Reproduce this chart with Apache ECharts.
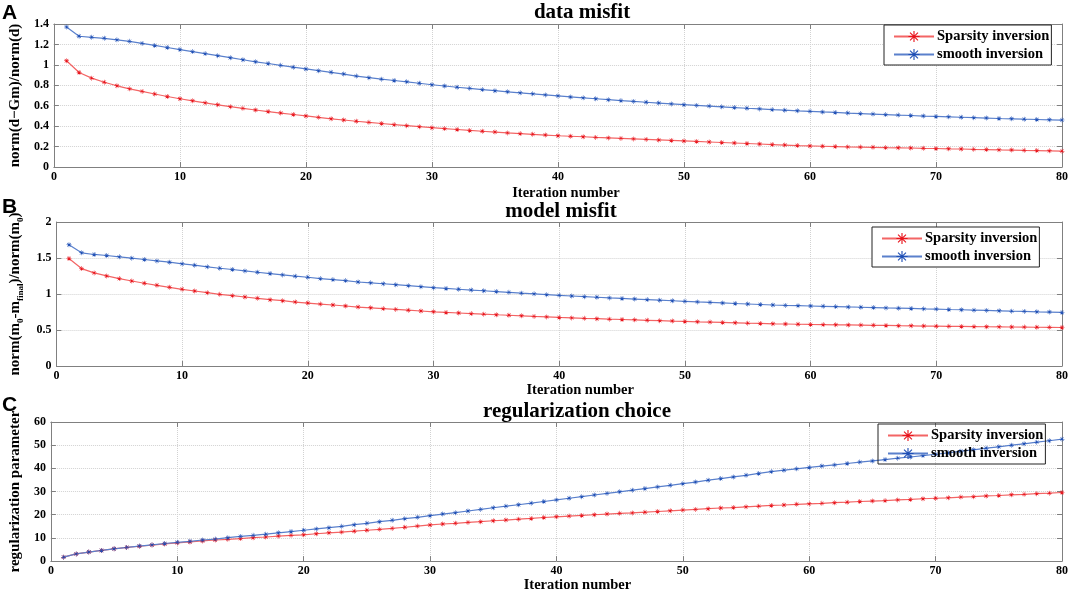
<!DOCTYPE html>
<html>
<head>
<meta charset="utf-8">
<script src="https://cdn.jsdelivr.net/npm/echarts@6/dist/echarts.min.js"></script>
<style>
  html, body { margin: 0; padding: 0; background: #fff; }
  #chart { width: 1072px; height: 594px; }
</style>
</head>
<body>
<div id="chart"></div>
<script>
// iteration numbers (x)
const iterations = [1,2,3,4,5,6,7,8,9,10,11,12,13,14,15,16,17,18,19,20,
  21,22,23,24,25,26,27,28,29,30,31,32,33,34,35,36,37,38,39,40,
  41,42,43,44,45,46,47,48,49,50,51,52,53,54,55,56,57,58,59,60,
  61,62,63,64,65,66,67,68,69,70,71,72,73,74,75,76,77,78,79,80];

// A: data misfit
const sparsityDataMisfit = [1.04,0.925,0.87,0.83,0.795,0.765,0.74,0.715,0.69,0.668,
  0.648,0.628,0.609,0.591,0.574,0.558,0.543,0.528,0.514,0.50,
  0.486,0.472,0.46,0.448,0.437,0.426,0.415,0.405,0.395,0.385,
  0.376,0.367,0.358,0.35,0.342,0.334,0.327,0.32,0.313,0.306,
  0.301,0.296,0.29,0.285,0.28,0.275,0.27,0.265,0.26,0.255,
  0.25,0.245,0.24,0.235,0.23,0.225,0.22,0.215,0.21,0.206,
  0.203,0.2,0.197,0.195,0.193,0.19,0.188,0.186,0.183,0.181,
  0.178,0.176,0.173,0.171,0.168,0.166,0.163,0.161,0.158,0.155];
const smoothDataMisfit = [1.37,1.28,1.27,1.26,1.245,1.23,1.21,1.19,1.17,1.15,
  1.13,1.11,1.09,1.07,1.05,1.03,1.013,0.995,0.977,0.96,
  0.943,0.927,0.91,0.89,0.875,0.86,0.847,0.834,0.82,0.805,
  0.793,0.781,0.77,0.758,0.747,0.736,0.726,0.716,0.706,0.696,
  0.686,0.677,0.668,0.659,0.65,0.642,0.634,0.626,0.618,0.61,
  0.603,0.596,0.589,0.582,0.575,0.569,0.562,0.556,0.55,0.545,
  0.539,0.534,0.528,0.523,0.518,0.513,0.508,0.504,0.499,0.495,
  0.491,0.487,0.483,0.479,0.475,0.472,0.468,0.465,0.462,0.459];

// B: model misfit
const sparsityModelMisfit = [1.493,1.353,1.293,1.251,1.214,1.181,1.149,1.121,1.093,1.065,
  1.042,1.019,0.995,0.977,0.958,0.94,0.921,0.907,0.888,0.874,
  0.86,0.847,0.833,0.819,0.808,0.797,0.786,0.775,0.764,0.753,
  0.744,0.736,0.728,0.72,0.712,0.705,0.697,0.689,0.682,0.674,
  0.668,0.662,0.657,0.651,0.646,0.641,0.635,0.63,0.624,0.619,
  0.614,0.61,0.605,0.6,0.595,0.591,0.586,0.583,0.58,0.577,
  0.575,0.572,0.57,0.568,0.565,0.563,0.56,0.558,0.555,0.553,
  0.551,0.549,0.547,0.545,0.544,0.542,0.54,0.538,0.537,0.535];
const smoothModelMisfit = [1.684,1.572,1.549,1.535,1.516,1.498,1.479,1.46,1.442,1.419,
  1.4,1.377,1.358,1.34,1.321,1.302,1.284,1.265,1.247,1.233,
  1.214,1.2,1.186,1.167,1.155,1.142,1.129,1.116,1.102,1.088,
  1.077,1.066,1.055,1.045,1.034,1.023,1.012,1.002,0.991,0.981,
  0.972,0.963,0.955,0.946,0.938,0.93,0.922,0.914,0.906,0.898,
  0.89,0.883,0.876,0.868,0.861,0.854,0.847,0.842,0.838,0.833,
  0.829,0.825,0.82,0.816,0.812,0.807,0.803,0.799,0.794,0.79,
  0.785,0.781,0.776,0.772,0.767,0.762,0.758,0.753,0.749,0.744];

// C: regularization parameter
const sparsityRegParam = [1.7,3.1,3.9,4.6,5.3,5.9,6.4,6.9,7.4,7.85,
  8.27,8.7,9.1,9.4,9.7,10.1,10.4,10.8,11.1,11.35,
  11.8,12.2,12.5,12.9,13.3,13.7,14.1,14.6,15.1,15.6,
  16.0,16.3,16.7,17.0,17.4,17.7,18.1,18.4,18.8,19.1,
  19.4,19.7,20.0,20.3,20.6,20.8,21.1,21.4,21.7,22.0,
  22.3,22.6,22.9,23.1,23.4,23.7,24.0,24.2,24.5,24.7,
  24.9,25.2,25.4,25.7,25.9,26.1,26.4,26.6,26.9,27.1,
  27.3,27.6,27.8,28.1,28.3,28.6,28.8,29.1,29.3,29.6];
const smoothRegParam = [1.7,3.1,3.9,4.6,5.3,5.9,6.5,7.0,7.6,8.1,
  8.55,9.1,9.5,10.1,10.65,11.1,11.6,12.2,12.75,13.3,
  13.9,14.4,15.0,15.7,16.3,17.0,17.6,18.3,18.9,19.6,
  20.3,20.9,21.6,22.3,23.0,23.7,24.3,25.0,25.7,26.4,
  27.1,27.8,28.5,29.2,29.9,30.6,31.3,32.0,32.7,33.4,
  34.1,34.9,35.6,36.3,37.0,37.8,38.6,39.2,39.8,40.4,
  41.0,41.5,42.1,42.7,43.2,43.8,44.4,44.9,45.5,46.1,
  46.7,47.4,48.0,48.7,49.3,50.0,50.6,51.3,51.9,52.6];

const seriesNames = ['Sparsity inversion', 'smooth inversion'];
const panelTitles = ['data misfit', 'model misfit', 'regularization choice'];
const panelLetters = ['A', 'B', 'C'];
const yRanges = [[0, 1.4, 0.2], [0, 2, 0.5], [0, 60, 10]];

const SERIF = 'Liberation Serif';
const FRAME = '#808080';
// matlab-like asterisk marker
const STAR = 'path://M0 4.5H10V5.5H0Z M4.5 0H5.5V10H4.5Z M1.1 1.8L1.8 1.1L8.9 8.2L8.2 8.9Z M8.2 1.1L8.9 1.8L1.8 8.9L1.1 8.2Z';

const grids = [
  { left: 44, right: 10, top: 24, height: 143 },
  { left: 44, right: 10, top: 222, height: 144 },
  { left: 44, right: 10, top: 422, height: 143 }
];

function pairs(vals) {
  return iterations.map((it, i) => [it, vals[i]]);
}

const xAxis = [], yAxis = [];
const xNameGap = [19, 15, 14];
const xNamePad = [16, 42, 42];
const yNames = [
  'norm(d\u2212Gm)/norm(d)',
  '{a|norm(m}{s|0}{a|-m}{s|final}{a|)/norm(m}{s|0}{a|)}',
  'regularization parameter'
];

grids.forEach((g, gi) => {
  xAxis.push({
    gridIndex: gi, type: 'value', min: 0, max: 80, interval: 10, position: 'bottom',
    name: 'Iteration number', nameLocation: 'middle', nameGap: xNameGap[gi],
    nameTextStyle: { color: '#000', fontFamily: SERIF, fontWeight: 'bold', fontSize: 14.5, padding: [0, 0, 0, xNamePad[gi]] },
    axisLine: { onZero: false, lineStyle: { color: FRAME } },
    axisTick: { inside: true, length: 5, lineStyle: { color: FRAME } },
    axisLabel: { color: '#000', fontFamily: SERIF, fontWeight: 'bold', fontSize: 12, margin: 4 },
    splitLine: { show: true, lineStyle: { type: 'dotted', color: '#d2d2d2' } }
  });
  xAxis.push({
    gridIndex: gi, type: 'value', min: 0, max: 80, interval: 10, position: 'top',
    axisLine: { onZero: false, lineStyle: { color: FRAME } },
    axisTick: { inside: true, length: 5, lineStyle: { color: FRAME } },
    axisLabel: { show: false }, splitLine: { show: false }
  });
  const r = yRanges[gi];
  yAxis.push({
    gridIndex: gi, type: 'value', min: r[0], max: r[1], interval: r[2], position: 'left',
    name: yNames[gi], nameLocation: 'middle', nameGap: 23,
    nameTextStyle: {
      color: '#000', fontFamily: SERIF, fontWeight: 'bold', fontSize: 15,
      rich: {
        a: { color: '#000', fontFamily: SERIF, fontWeight: 'bold', fontSize: 15 },
        s: { color: '#000', fontFamily: SERIF, fontWeight: 'bold', fontSize: 9, verticalAlign: 'bottom', lineHeight: 20 }
      }
    },
    axisLine: { onZero: false, lineStyle: { color: FRAME } },
    axisTick: { inside: true, length: 5, lineStyle: { color: FRAME } },
    axisLabel: { color: '#000', fontFamily: SERIF, fontWeight: 'bold', fontSize: 12, margin: 5 },
    splitLine: { show: true, lineStyle: { type: 'dotted', color: '#d2d2d2' } }
  });
  yAxis.push({
    gridIndex: gi, type: 'value', min: r[0], max: r[1], interval: r[2], position: 'right',
    axisLine: { onZero: false, lineStyle: { color: FRAME } },
    axisTick: { inside: true, length: 5, lineStyle: { color: FRAME } },
    axisLabel: { show: false }, splitLine: { show: false }
  });
});

const panelData = [
  [sparsityDataMisfit, smoothDataMisfit],
  [sparsityModelMisfit, smoothModelMisfit],
  [sparsityRegParam, smoothRegParam]
];
const lineColors = ['#f36565', '#5a80cc'];
const markColors = ['#e8141c', '#1f4fb5'];

const series = [];
panelData.forEach((pd, gi) => {
  pd.forEach((vals, si) => {
    series.push({
      name: seriesNames[si], type: 'line',
      xAxisIndex: gi * 2, yAxisIndex: gi * 2,
      data: pairs(vals),
      symbol: STAR, symbolSize: 5, showAllSymbol: true,
      lineStyle: { color: lineColors[si], width: 1.2 },
      itemStyle: { color: markColors[si] },
      emphasis: { disabled: true }
    });
  });
});

const legendPos = [
  { left: 884, top: 25, bg: '#fff' },
  { left: 872, top: 227, bg: '#fff' },
  { left: 878, top: 424, bg: 'transparent' }
];
const legend = legendPos.map(p => ({
  data: seriesNames, orient: 'vertical', left: p.left, top: p.top,
  itemWidth: 40, itemHeight: 14, itemGap: 3,
  padding: [4, 2, 3, 9],
  backgroundColor: p.bg, borderColor: '#222', borderWidth: 1, borderRadius: 0,
  textStyle: { color: '#000', fontFamily: SERIF, fontWeight: 'bold', fontSize: 14.5, padding: [0, 0, 0, -2] }
}));

const titleX = [582, 561, 577];
const titleY = [2, 201, 401];
const letterY = [3, 197, 395];
const graphic = [];
panelTitles.forEach((t, i) => {
  graphic.push({
    type: 'text', x: titleX[i], y: titleY[i], z: 10,
    style: { text: t, textAlign: 'center', textVerticalAlign: 'top', fill: '#000',
      font: 'bold 21px "Liberation Serif"' }
  });
  graphic.push({
    type: 'text', x: 2, y: letterY[i], z: 10,
    style: { text: panelLetters[i], textAlign: 'left', textVerticalAlign: 'top', fill: '#000',
      font: 'bold 21px "Liberation Sans"' }
  });
});

const chart = echarts.init(document.getElementById('chart'));
chart.setOption({
  animation: false,
  backgroundColor: '#fff',
  grid: grids,
  xAxis: xAxis,
  yAxis: yAxis,
  legend: legend,
  series: series,
  graphic: graphic
});
</script>
</body>
</html>
